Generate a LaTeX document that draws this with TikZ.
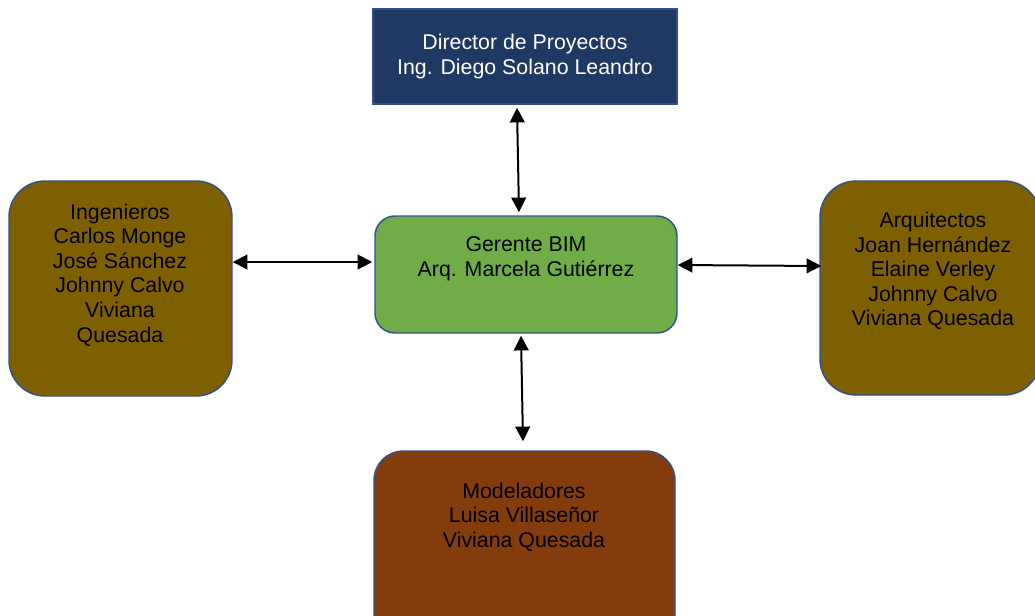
\documentclass[tikz,border=0pt]{standalone}
\usepackage{fontspec}
\setmainfont{Liberation Sans}
\usetikzlibrary{arrows.meta, positioning}
\definecolor{navybox}{HTML}{203864}
\definecolor{edgeblue}{HTML}{2F528F}
\definecolor{bimgreen}{HTML}{70AD47}
\definecolor{olivebox}{HTML}{7F6000}
\definecolor{rustbox}{HTML}{843C0C}

\begin{document}
\begin{tikzpicture}[x=0.75pt, y=-0.75pt,
  box/.style={draw=edgeblue, line width=1.1pt, inner sep=0pt},
  txt/.style={align=center, font=\fontsize{16}{18.4}\selectfont},
  link/.style={{Triangle[length=11pt,width=11pt]}-{Triangle[length=11pt,width=11pt]}, line width=1.5pt}]
\useasboundingbox (0,0) rectangle (1035,615);
% boxes
\node[box, fill=navybox, minimum width=228pt, minimum height=71.25pt, txt, text=white]
  (director) at (525,56.5) {Director de Proyectos\\Ing. Diego Solano Leandro};
\node[box, fill=bimgreen, rounded corners=15pt, minimum width=226.5pt, minimum height=87.75pt]
  (gerente) at (526,274.5) {};
\node[box, fill=olivebox, rounded corners=27pt, minimum width=167.25pt, minimum height=161.25pt]
  (ingenieros) at (120.5,288.5) {};
\node[box, fill=olivebox, rounded corners=27pt, minimum width=165pt, minimum height=160.5pt]
  (arquitectos) at (930,288) {};
\node[box, fill=rustbox, rounded corners=22pt, minimum width=225.75pt, minimum height=150pt]
  (modeladores) at (524.5,551) {};
% texts
\node[txt] (gerente-txt) at (526,259) {Gerente BIM\\Arq. Marcela Gutiérrez};
\node[txt] (ingenieros-txt) at (120,275) {Ingenieros\\Carlos Monge\\José Sánchez\\Johnny Calvo\\Viviana\\Quesada};
\node[txt] (arquitectos-txt) at (933,271) {Arquitectos\\Joan Hernández\\Elaine Verley\\Johnny Calvo\\Viviana Quesada};
\node[txt] (modeladores-txt) at (524,517) {Modeladores\\Luisa Villaseñor\\Viviana Quesada};
% links
\draw[link] ([shift={(-8,3)}]director.south) -- ([shift={(-7,-3)}]gerente.north);
\draw[link] ([shift={(0,-26.5)}]ingenieros.east) -- ([shift={(-2,-12.5)}]gerente.west);
\draw[link] ([shift={(0,-9.5)}]gerente.east) -- ([shift={(2,-22)}]arquitectos.west);
\draw[link] ([shift={(-5,2)}]gerente.south) -- ([shift={(-1.5,-9)}]modeladores.north);
\end{tikzpicture}
\end{document}
